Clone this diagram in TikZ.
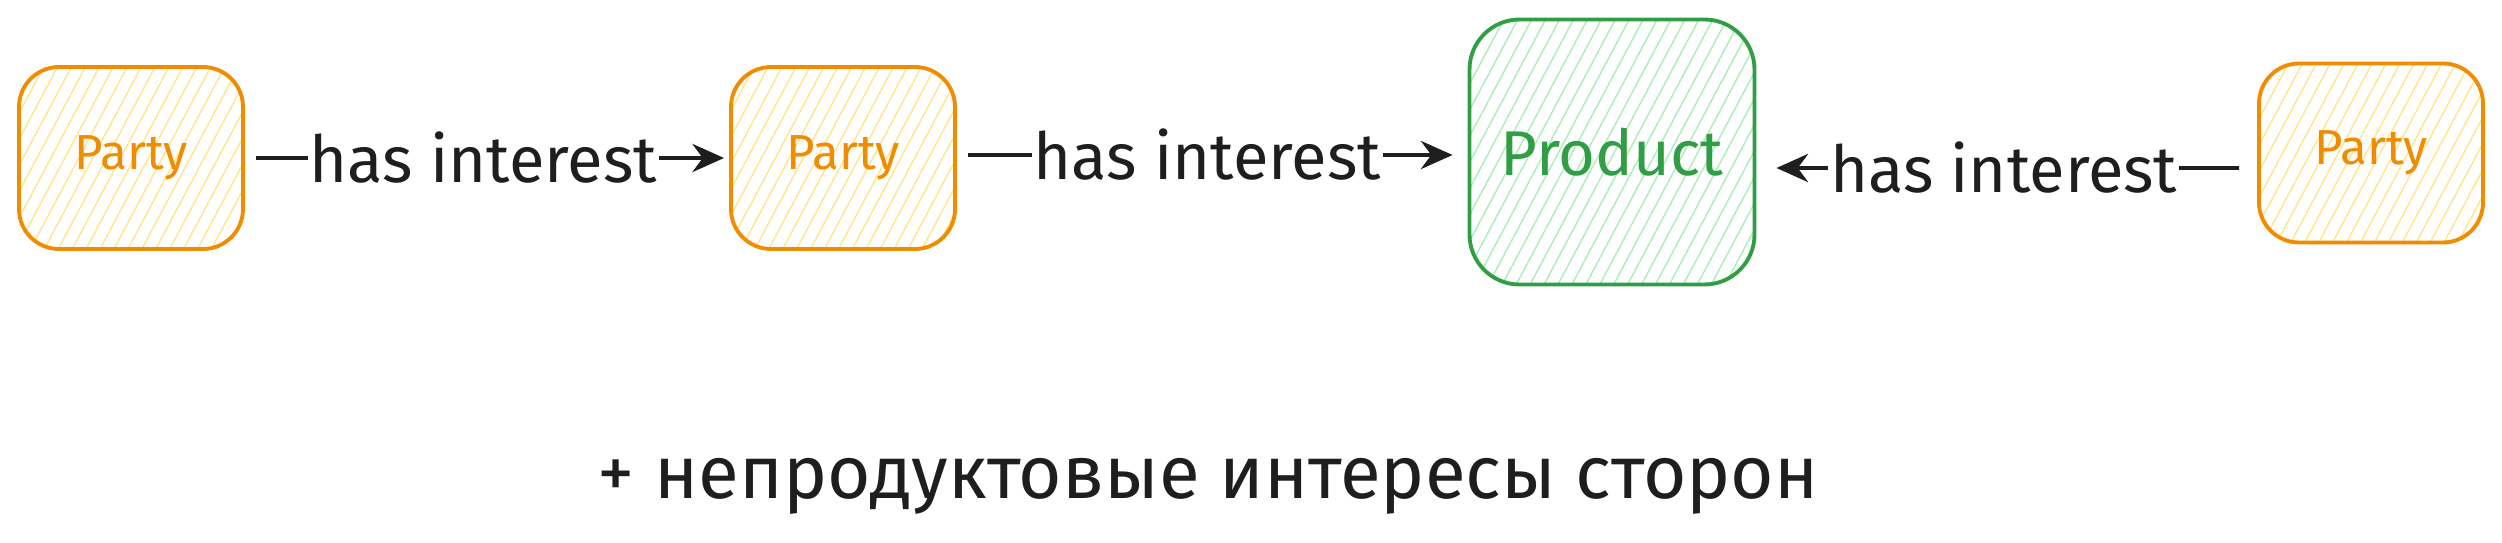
\documentclass[tikz,border=0pt]{standalone}
\usepackage{fontspec}
\setmainfont{Fira Sans}
\usepackage{tikz}
\usetikzlibrary{arrows.meta,patterns.meta}
\definecolor{partyorange}{HTML}{F08C00}
\definecolor{partyhatch}{HTML}{FFE58A}
\definecolor{productgreen}{HTML}{2F9E44}
\definecolor{producthatch}{HTML}{A9EEB5}
\definecolor{inkblack}{HTML}{1E1E1E}
\tikzset{
    party-box/.style = {draw=partyorange, line width=1.1pt, rounded corners=0.4cm,
        pattern={Lines[angle=62,distance=3.5pt,line width=0.4pt]}, pattern color=partyhatch,
        minimum width=2.24cm, minimum height=1.82cm, text=partyorange, font=\fontsize{14}{16}\selectfont},
    product-box/.style = {draw=productgreen, line width=1.1pt, rounded corners=0.5cm,
        pattern={Lines[angle=62,distance=3.5pt,line width=0.4pt]}, pattern color=producthatch,
        minimum width=2.85cm, minimum height=2.65cm, text=productgreen, font=\fontsize{18}{20}\selectfont},
    interest-arrow/.style = {draw=inkblack, line width=1.1pt, -{Stealth[length=9pt,width=8pt]}},
    interest-label/.style = {fill=white, text=inkblack, inner sep=0.5pt, font=\fontsize{18.5}{21}\selectfont},
}

\begin{document}
\begin{tikzpicture}
\useasboundingbox (0,0) rectangle (25.02,5.42);
\node [party-box] (party-a) at (1.31,3.84) {Party};
\node [party-box] (party-b) at (8.43,3.84) {Party};
\node [product-box] (product) at (16.12,3.90) {Product};
\node [party-box, minimum height=1.79cm] (party-c) at (23.71,3.89) {Party};
\draw [interest-arrow, shorten <=0.12cm, shorten >=0.05cm] (party-a.east) -- (party-b.west)
    node [interest-label, midway, xshift=-0.03cm] {has interest};
\draw [interest-arrow, shorten <=0.11cm, shorten >=0.15cm] ([yshift=0.03cm]party-b.east) -- ([yshift=-0.03cm]product.west)
    node [interest-label, midway, xshift=-0.05cm] {has interest};
\draw [interest-arrow, shorten <=0.18cm, shorten >=0.2cm] ([yshift=-0.15cm]party-c.west) -- ([yshift=-0.16cm]product.east)
    node [interest-label, midway, xshift=-0.03cm] {has interest};
\node [text=inkblack, font=\fontsize{21.2}{24}\selectfont] (extra) at (12.08,0.56) {+ непродуктовые интересы сторон};
\end{tikzpicture}
\end{document}
